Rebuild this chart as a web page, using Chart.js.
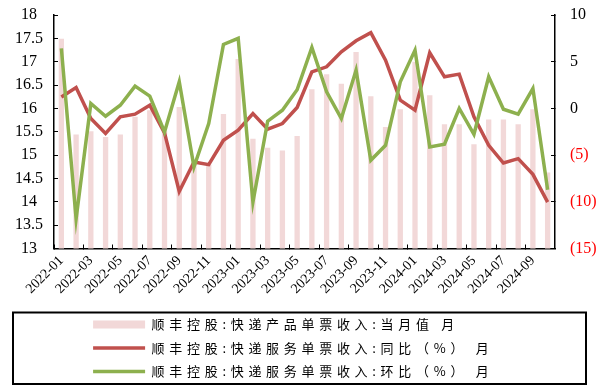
<!DOCTYPE html>
<html>
<head>
<meta charset="utf-8">
<script src="https://cdn.jsdelivr.net/npm/chart.js@4/dist/chart.umd.min.js"></script>
<style>
  html, body { margin: 0; padding: 0; background: #fff; }
</style>
</head>
<body>
<canvas id="chart" width="602" height="388"></canvas>
<script>
const MONTHS = [
  '2022-01', '2022-02', '2022-03', '2022-04', '2022-05', '2022-06', '2022-07', '2022-08', '2022-09', '2022-10', '2022-11', '2022-12',
  '2023-01', '2023-02', '2023-03', '2023-04', '2023-05', '2023-06', '2023-07', '2023-08', '2023-09', '2023-10', '2023-11', '2023-12',
  '2024-01', '2024-02', '2024-03', '2024-04', '2024-05', '2024-06', '2024-07', '2024-08', '2024-09', '2024-10'
];

// 快递产品单票收入 当月值 (元, left axis)
const UNIT_REVENUE = [
  17.49, 15.44, 15.51, 15.39, 15.44, 15.82, 15.96, 15.52, 16.03, 14.82, 14.8, 15.88,
  17.06, 15.35, 15.16, 15.1, 15.41, 16.41, 16.73, 16.53, 17.21, 16.26, 15.6, 15.98,
  17.0, 16.28, 15.66, 15.66, 15.23, 15.76, 15.76, 15.66, 15.98, 14.63
];

// 快递服务单票收入 同比 % (right axis)
const YOY = [
  1.23, 2.24, -1.09, -2.69, -0.91, -0.62, 0.34, -2.62, -8.9, -5.74, -6.02, -3.41,
  -2.34, -0.55, -2.23, -1.62, 0.1, 3.92, 4.45, 6.06, 7.24, 8.1, 5.17, 0.88,
  -0.19, 5.96, 3.38, 3.67, -0.91, -3.95, -5.85, -5.38, -7.06, -10.03
];

// 快递服务单票收入 环比 % (right axis)
const MOM = [
  6.43, -11.82, 0.52, -0.84, 0.34, 2.38, 1.31, -2.52, 2.85, -6.27, -1.62, 6.85,
  7.5, -10.03, -1.37, -0.19, 2.0, 6.53, 1.77, -1.09, 4.1, -5.56, -3.95, 2.85,
  6.24, -4.13, -3.84, -0.01, -2.77, 3.38, -0.09, -0.62, 2.13, -8.7
];

const SERIES_NAMES = [
  '顺丰控股:快递产品单票收入:当月值 月',
  '顺丰控股:快递服务单票收入:同比（%） 月',
  '顺丰控股:快递服务单票收入:环比（%） 月'
];

const LEFT_AXIS = [13, 18, 0.5];
const RIGHT_AXIS = [-15, 10, 5];

const SERIF = "'Liberation Serif', 'Times New Roman', serif";
const SPACING = '4.7px';

// legend text is spaced out and the legend gets a black frame
const legendStyle = {
  id: 'legendStyle',
  afterInit(chart) {
    const lg = chart.legend;
    const fit = lg.fit, draw = lg.draw;
    lg.fit = function () { this.ctx.letterSpacing = SPACING; fit.call(this); this.ctx.letterSpacing = '0px'; };
    lg.draw = function (a) { this.ctx.letterSpacing = SPACING; draw.call(this, a); this.ctx.letterSpacing = '0px'; };
  },
  afterLayout(chart) {
    const lg = chart.legend;
    const w = Math.max(...lg.lineWidths);
    lg.left = chart.width / 2 - 8 - w / 2 - 5;
    lg.right = lg.left + w;
  },
  afterDraw(chart) {
    const lg = chart.legend, c = chart.ctx;
    c.save();
    c.strokeStyle = '#000';
    c.lineWidth = 2;
    c.strokeRect(13, lg.top + 5, chart.width - 29, lg.bottom - lg.top - 9);
    c.restore();
  }
};

// side axes: fixed width, no extra padding from the tick gap
const fitSide = width => s => {
  s.width = width;
  s.paddingTop = 8;
  s.paddingBottom = 8;
};

new Chart(document.getElementById('chart'), {
  data: {
    labels: MONTHS,
    datasets: [
      {
        type: 'bar',
        label: SERIES_NAMES[0],
        data: UNIT_REVENUE,
        yAxisID: 'y',
        backgroundColor: '#F2D8D8',
        borderWidth: 0,
        barPercentage: 0.36,
        categoryPercentage: 1,
        order: 3
      },
      {
        type: 'line',
        label: SERIES_NAMES[1],
        data: YOY,
        yAxisID: 'y1',
        borderColor: '#C0504D',
        backgroundColor: '#C0504D',
        borderWidth: 3.5,
        pointRadius: 0,
        tension: 0,
        order: 2
      },
      {
        type: 'line',
        label: SERIES_NAMES[2],
        data: MOM,
        yAxisID: 'y1',
        borderColor: '#8DB04E',
        backgroundColor: '#8DB04E',
        borderWidth: 3.5,
        pointRadius: 0,
        tension: 0,
        order: 1
      }
    ]
  },
  options: {
    responsive: false,
    devicePixelRatio: 1,
    animation: false,
    layout: { padding: { top: 15, bottom: 0, left: 0, right: 0 } },
    scales: {
      x: {
        offset: true,
        grid: {
          offset: true,
          drawOnChartArea: false,
          tickLength: -4,
          tickWidth: 1,
          tickColor: c => c.index % 2 === 0 ? '#000' : 'rgba(0,0,0,0)'
        },
        border: { color: '#000', width: 1.5 },
        ticks: {
          autoSkip: false,
          minRotation: 45,
          maxRotation: 45,
          padding: 8,
          color: '#000',
          font: { family: SERIF, size: 14 },
          callback: (v, i) => i % 2 === 0 ? MONTHS[i] : ''
        },
        afterFit: s => { s.height = 59; }
      },
      y: {
        position: 'left',
        min: LEFT_AXIS[0],
        max: LEFT_AXIS[1],
        grid: { drawOnChartArea: false, tickLength: -4, tickColor: '#000' },
        border: { color: '#000', width: 1.5 },
        ticks: {
          stepSize: LEFT_AXIS[2],
          crossAlign: 'center',
          padding: 15,
          color: '#000',
          font: { family: SERIF, size: 16 },
          callback: v => String(v)
        },
        afterFit: fitSide(54)
      },
      y1: {
        position: 'right',
        min: RIGHT_AXIS[0],
        max: RIGHT_AXIS[1],
        grid: { drawOnChartArea: false, tickLength: -4, tickColor: '#000' },
        border: { color: '#000', width: 1.5 },
        ticks: {
          stepSize: RIGHT_AXIS[2],
          padding: 19,
          color: c => c.tick.value < 0 ? '#FF0000' : '#000',
          font: { family: SERIF, size: 16 },
          callback: v => v < 0 ? `(${-v})` : String(v)
        },
        afterFit: fitSide(47)
      }
    },
    plugins: {
      legend: {
        position: 'bottom',
        align: 'start',
        labels: {
          usePointStyle: true,
          pointStyleWidth: 52,
          boxHeight: 8,
          padding: 10.5,
          color: '#000',
          font: { family: "'Noto Sans CJK SC'", size: 13 },
          generateLabels(chart) {
            const items = Chart.defaults.plugins.legend.labels.generateLabels(chart);
            items.sort((a, b) => a.datasetIndex - b.datasetIndex);
            items.forEach(it => { it.pointStyle = it.datasetIndex === 0 ? 'rect' : 'line'; });
            return items;
          }
        }
      },
      tooltip: { enabled: false }
    }
  },
  plugins: [legendStyle]
});
</script>
</body>
</html>
